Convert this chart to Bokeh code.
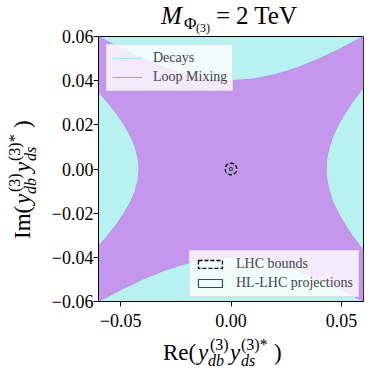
import numpy as np
from bokeh.plotting import figure
from bokeh.layouts import column, row
from bokeh.models import (Range1d, Legend, LegendItem, FixedTicker,
                          CustomJSTickFormatter, Div)
from bokeh.embed import file_html
from bokeh.resources import INLINE

# ---------------- data ----------------
# upper edge of the loop-mixing allowed band
top_x = [-0.06, -0.05, -0.04, -0.03, -0.02, -0.01, 0.0, 0.01, 0.02, 0.03, 0.04, 0.05, 0.06]
top_y = [0.060, 0.0547, 0.0499, 0.0458, 0.0427, 0.0407, 0.0400, 0.0407, 0.0427, 0.0458, 0.0499, 0.0547, 0.060]
# lower edge (right to left)
bottom_x = [0.06, 0.05, 0.04, 0.03, 0.02, 0.01, 0.0, -0.01, -0.02, -0.03, -0.04, -0.05, -0.06]
bottom_y = [-0.060, -0.0547, -0.0499, -0.0458, -0.0427, -0.0407, -0.0400, -0.0407, -0.0427, -0.0458, -0.0499, -0.0547, -0.060]
# right lobe edge (top to bottom)
right_y = [0.037, 0.03, 0.025, 0.02, 0.015, 0.01, 0.005, 0.0, -0.005, -0.01, -0.015, -0.02, -0.025, -0.03, -0.037]
right_x = [0.060, 0.0548, 0.0515, 0.0486, 0.0462, 0.0445, 0.0434, 0.0430, 0.0434, 0.0445, 0.0462, 0.0486, 0.0515, 0.0548, 0.060]
# left lobe edge (bottom to top)
left_y = [-0.035, -0.03, -0.025, -0.02, -0.015, -0.01, -0.005, 0.0, 0.005, 0.01, 0.015, 0.02, 0.025, 0.03, 0.035]
left_x = [-0.060, -0.0557, -0.0518, -0.0484, -0.0455, -0.0434, -0.0421, -0.0416, -0.0421, -0.0434, -0.0455, -0.0484, -0.0518, -0.0557, -0.060]

# collider bounds (circles around the origin)
bound_cx = [0.0]
bound_cy = [0.0]
lhc_radius = [0.0026]
hllhc_radius = [0.0007]

x_ticks = [-0.05, 0.0, 0.05]
x_tick_labels = ["\u22120.05", "0.00", "0.05"]
y_ticks = [-0.06, -0.04, -0.02, 0.0, 0.02, 0.04, 0.06]
y_tick_labels = ["\u22120.06", "\u22120.04", "\u22120.02", "0.00", "0.02", "0.04", "0.06"]

legend1_labels = ["Decays", "Loop Mixing"]
legend2_labels = ["LHC bounds", "HL-LHC projections"]

# ---------------- styles ----------------
CYAN = "#b7f2f0"
PURPLE = "#c497ec"
CYAN_LINE = "#9fe6ec"
PURPLE_LINE = "#bb92ea"
FONT = "Liberation Serif"
ASC = 0.891   # ascent of the font (em)

# page geometry (page px; page origin of the layout)
OX, OY = 2, 1
TOTAL_W = 365
TITLE_H = 26
TOP_B = 10
MAIN_H = 295 + TOP_B
YLAB_W = 47
XLAB_H = 40

# ---------------- main plot ----------------
p = figure(width=TOTAL_W - YLAB_W, height=MAIN_H, output_backend="svg", toolbar_location=None,
           x_range=Range1d(-0.06, 0.06), y_range=Range1d(-0.06, 0.06),
           min_border_left=51, min_border_right=2, min_border_top=TOP_B, min_border_bottom=30)
p.background_fill_color = CYAN
p.border_fill_color = "white"
p.border_fill_alpha = 0
p.outline_line_color = "black"
p.outline_line_width = 1
p.grid.visible = False

# loop-mixing allowed region
poly_x = top_x + right_x + bottom_x + left_x
poly_y = top_y + right_y + bottom_y + left_y
p.patch(poly_x, poly_y, fill_color=PURPLE, fill_alpha=1, line_alpha=0)
r_loop = p.multi_line([top_x, right_x, bottom_x, left_x], [top_y, right_y, bottom_y, left_y],
                      line_color=PURPLE_LINE, line_width=1)

# legend proxy for the decay contour (outside the view)
r_dec = p.line(x=[float("nan")], y=[float("nan")], line_color=CYAN_LINE, line_width=1.2)

theta = np.linspace(0, 2 * np.pi, 120)
lhc_xs = [list(cx + r * np.cos(theta)) for cx, r in zip(bound_cx, lhc_radius)]
lhc_ys = [list(cy + r * np.sin(theta)) for cy, r in zip(bound_cy, lhc_radius)]
hl_xs = [list(cx + r * np.cos(theta)) for cx, r in zip(bound_cx, hllhc_radius)]
hl_ys = [list(cy + r * np.sin(theta)) for cy, r in zip(bound_cy, hllhc_radius)]
r_lhc = p.patches(lhc_xs, lhc_ys, fill_alpha=0, line_color="black", line_width=1.3, line_dash="4 2")
r_hl = p.patches(hl_xs, hl_ys, fill_alpha=0, line_color="#2f4f4f", line_width=1.2)

# axes
for ax, tks, labs in ((p.xaxis, x_ticks, x_tick_labels), (p.yaxis, y_ticks, y_tick_labels)):
    ax.ticker = FixedTicker(ticks=tks)
    ax.formatter = CustomJSTickFormatter(args=dict(tvals=tks, tlabs=labs), code="""
        for (let i = 0; i < tvals.length; i++) { if (Math.abs(tvals[i] - tick) < 1e-9) return tlabs[i]; }
        return '';
    """)
    ax.minor_tick_line_color = None
    ax.major_tick_in = 0
    ax.major_tick_out = 5
    ax.major_tick_line_color = "black"
    ax.axis_line_color = "black"
    ax.major_label_text_font = FONT
    ax.major_label_text_font_size = "18px"
    ax.major_label_text_color = "black"
p.yaxis.major_label_standoff = 0
p.xaxis.major_label_standoff = 7

# legends
leg1 = Legend(items=[LegendItem(label=legend1_labels[0], renderers=[r_dec]),
                     LegendItem(label=legend1_labels[1], renderers=[r_loop])],
              location="top_left", margin=8)
leg2 = Legend(items=[LegendItem(label=legend2_labels[0], renderers=[r_lhc]),
                     LegendItem(label=legend2_labels[1], renderers=[r_hl])],
              location="bottom_right", margin=4)
for lg in (leg1, leg2):
    lg.label_text_font = FONT
    lg.label_text_font_size = "14px"
    lg.label_height = 15
    lg.glyph_height = 10
    lg.glyph_width = 30
    lg.label_standoff = 11
    lg.spacing = 3
    lg.padding = 5
    lg.background_fill_color = "white"
    lg.background_fill_alpha = 0.8
    lg.border_line_color = "#cccccc"
    lg.border_line_width = 1
    p.add_layout(lg)

# ---------------- text panels (HTML text, composed piece by piece) ----------------
panel_origin = {
    "title": (OX, OY),
    "ylab": (OX, OY + TITLE_H),
    "xlab": (OX, OY + TITLE_H + MAIN_H),
}
pieces = {"title": [], "ylab": [], "xlab": []}


def put(panel, px, pb, text, size, italic=False):
    """horizontal piece: left edge px, baseline pb (page pixels)"""
    ox, oy = panel_origin[panel]
    left = px - ox
    top = pb - ASC * size - oy
    style = "italic" if italic else "normal"
    pieces[panel].append(
        f'<span style="position:absolute;left:{left:.1f}px;top:{top:.1f}px;'
        f'font-family:\'{FONT}\';font-size:{size}px;font-style:{style};line-height:normal;'
        f'white-space:nowrap;color:black;">{text}</span>')


def vput(panel, bx, sy, text, size, italic=False):
    """piece rotated 90 deg ccw: baseline at page x bx, text starts at page y sy and runs up"""
    ox, oy = panel_origin[panel]
    left = bx - ASC * size - ox
    top = sy - oy
    style = "italic" if italic else "normal"
    pieces[panel].append(
        f'<span style="position:absolute;left:{left:.1f}px;top:{top:.1f}px;'
        f'transform:rotate(-90deg);transform-origin:0 0;'
        f'font-family:\'{FONT}\';font-size:{size}px;font-style:{style};line-height:normal;'
        f'white-space:nowrap;color:black;">{text}</span>')


# title  M_{Phi_(3)} = 2 TeV
put("title", 163, 25, "M", 25, italic=True)
put("title", 186, 30, "\u03a6", 17)
put("title", 198, 33, "(3)", 12)
put("title", 218, 25, "=", 25)
put("title", 238, 25, "2 TeV", 25)

# x label  Re(y_db^(3) y_ds^(3)*)
xb = 361
xs0 = 165
put("xlab", xs0, xb, "Re(", 23)
put("xlab", xs0 + 35, xb, "y", 23, italic=True)
put("xlab", xs0 + 47, xb - 10, "(3)", 16)
put("xlab", xs0 + 45, xb + 6, "db", 16, italic=True)
put("xlab", xs0 + 67, xb, "y", 23, italic=True)
put("xlab", xs0 + 78, xb - 10, "(3)*", 16)
put("xlab", xs0 + 78, xb + 6, "ds", 16, italic=True)
put("xlab", xs0 + 111, xb, ")", 23)

# y label  Im(y_db^(3) y_ds^(3)*)  rotated
yb = 32
ys0 = 240
vput("ylab", yb, ys0, "Im(", 23)
vput("ylab", yb, ys0 - 35, "y", 23, italic=True)
vput("ylab", yb - 10, ys0 - 47, "(3)", 16)
vput("ylab", yb + 6, ys0 - 45, "db", 16, italic=True)
vput("ylab", yb, ys0 - 67, "y", 23, italic=True)
vput("ylab", yb - 10, ys0 - 78, "(3)*", 16)
vput("ylab", yb + 6, ys0 - 78, "ds", 16, italic=True)
vput("ylab", yb, ys0 - 111, ")", 23)


def text_div(panel, w, h):
    html = (f'<div style="position:relative;width:{w}px;height:{h}px;overflow:visible;margin:0;padding:0;">'
            + "".join(pieces[panel]) + "</div>")
    return Div(text=html, width=w, height=h, margin=0,
               styles={"overflow": "visible", "z-index": "5", "position": "relative"})


title_div = text_div("title", TOTAL_W, TITLE_H)
ylab_div = text_div("ylab", YLAB_W, MAIN_H)
xlab_div = text_div("xlab", TOTAL_W, XLAB_H)

layout = column(title_div, row(ylab_div, p), xlab_div)

open("out.html", "w").write(file_html(layout, INLINE))
